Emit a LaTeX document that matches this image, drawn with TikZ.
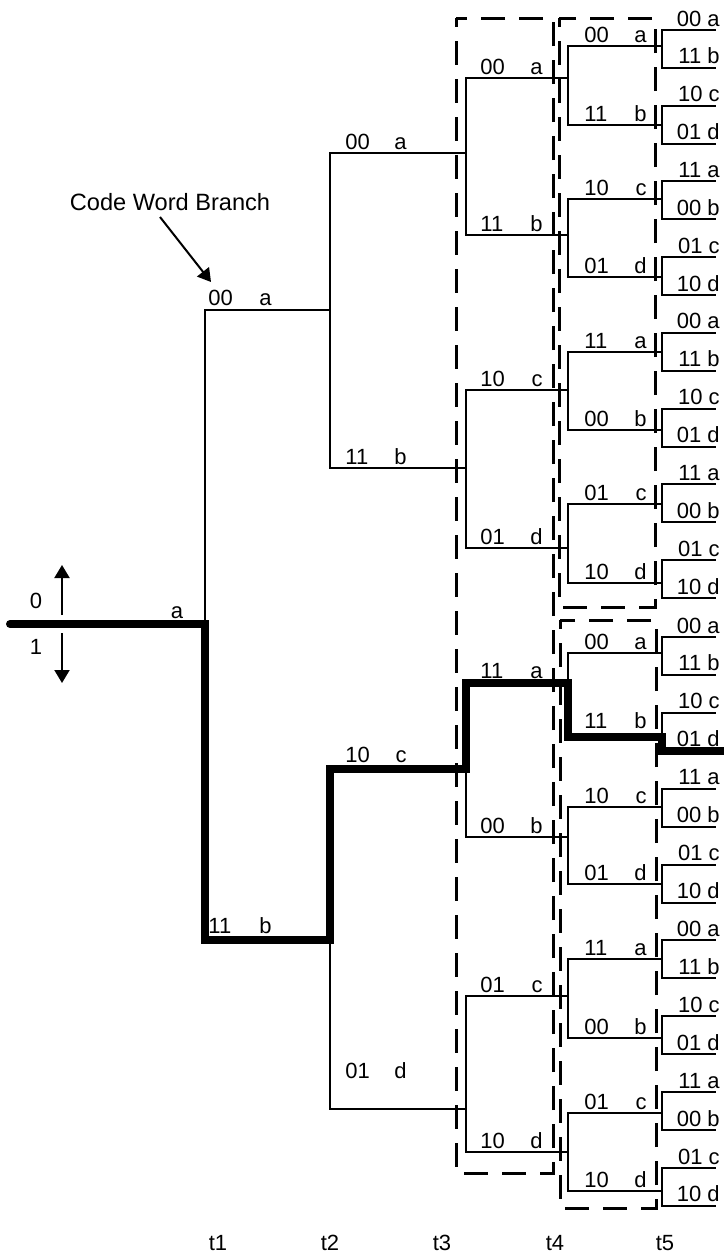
\documentclass[tikz,border=0pt]{standalone}
\usepackage{fontspec}
\setmainfont{Liberation Sans}
\usetikzlibrary{arrows.meta}

\begin{document}
\begin{tikzpicture}[
  x=0.5pt,y=-0.5pt,
  line join=miter,
  >={Triangle[length=6.5pt,width=7.5pt]},
  branch/.style={line width=1pt,line cap=rect},
  survivor/.style={line width=4pt,line cap=round,line join=miter},
  stagebox/.style={line width=1.5pt,dash pattern=on 12pt off 7pt,dash phase=7.5pt},
  pointer/.style={line width=1pt,->},
  code/.style={font=\fontsize{11}{13}\selectfont,inner sep=0pt},
  callout/.style={font=\fontsize{11.8}{14}\selectfont,inner sep=0pt}
]
\useasboundingbox (0,0) rectangle (723,1253);

% Fork points, one column per time step (pixel units, y downwards).
\coordinate (R) at (10,624);
\coordinate (I0) at (205,310);
\coordinate (I1) at (205,940);
\foreach \n/\y in {0/153,1/468,2/769,3/1109}
  \coordinate (J\n) at (330,\y);
\foreach \n/\y in {0/78,1/235,2/390,3/548,4/683,5/837,6/996,7/1152}
  \coordinate (K\n) at (466,\y);
\foreach \n/\y in {0/46,1/125,2/199,3/277,4/352,5/430,6/504,7/583,
                   8/653,9/737,10/807,11/884,12/959,13/1038,14/1113,15/1191}
  \coordinate (M\n) at (568,\y);
\foreach \n in {0,...,15} {
  \pgfmathtruncatemacro\m{\n+16}
  \coordinate (L\n) at (662,{30+37.87*\n});
  \coordinate (L\m) at (662,{637+37.93*\n});
}
\coordinate (rim) at (715,0);
\coordinate (edge) at (730,0);

% Stage boxes
\draw[stagebox] (456,18) rectangle (553,1173);
\draw[stagebox] (559,18) rectangle (655,607);
\draw[stagebox] (560,620) rectangle (656,1208);

% Tree: every fork is one bracket, the parent branch meets it from the left
\draw[branch] (I0 -| J0) -- (I0) -- (I1) -- (I1 -| J0);
\foreach \a/\b in {0/1,2/3}
  \draw[branch] (J\a -| K0) -- (J\a) -- (J\b) -- (J\b -| K0);
\foreach \a/\b in {0/1,2/3,4/5,6/7}
  \draw[branch] (K\a -| M0) -- (K\a) -- (K\b) -- (K\b -| M0);
\foreach \a [evaluate=\a as \b using int(\a+1)] in {0,2,...,14}
  \draw[branch] (M\a -| L0) -- (M\a) -- (M\b) -- (M\b -| L0);
\foreach \a [evaluate=\a as \b using int(\a+1)] in {0,2,...,30}
  \draw[branch] (L\a -| rim) -- (L\a) -- (L\b) -- (L\b -| rim);

% Decoded path
\draw[survivor] (R) -- (R -| I0) -- (I1) -- (I1 -| J0) -- (J2) -- (J2 -| K0)
  -- (K4) -- (K4 -| M0) -- (M9) -- (M9 -| L0) -- (L19) -- (L19 -| edge);

% Branch labels: code word at the left end, state at the right end
\foreach \n/\cw/\st/\r in {0/00/a/5,1/11/b/7} {
  \node[code,anchor=base west] (ic\n) at ([shift={(3,-\r)}]I\n) {\cw};
  \node[code,anchor=base east] (is\n) at ([shift={(-58,-\r)}]I\n -| J0) {\st};
}
\foreach \n/\cw/\st/\r in {0/00/a/4,1/11/b/4,2/10/c/7,3/01/d/31} {
  \node[code,anchor=base west] (jc\n) at ([shift={(15,-\r)}]J\n) {\cw};
  \node[code,anchor=base east] (js\n) at ([shift={(-59,-\r)}]J\n -| K0) {\st};
}
\foreach \n/\cw/\st/\r in {0/00/a/4,1/11/b/4,2/10/c/4,3/01/d/4,
                           4/11/a/5,5/00/b/4,6/01/c/4,7/10/d/4} {
  \node[code,anchor=base west] (kc\n) at ([shift={(14,-\r)}]K\n) {\cw};
  \node[code,anchor=base east] (ks\n) at ([shift={(-25,-\r)}]K\n -| M0) {\st};
}
\foreach \o in {0,8}
  \foreach \i/\cw/\st in {0/00/a,1/11/b,2/10/c,3/01/d,4/11/a,5/00/b,6/01/c,7/10/d} {
    \pgfmathtruncatemacro\n{\o+\i}
    \pgfmathsetmacro\r{ifthenelse(\n==9,9,4)}
    \node[code,anchor=base west] (mc\n) at ([shift={(16,-\r)}]M\n) {\cw};
    \node[code,anchor=base east] (ms\n) at ([shift={(-15,-\r)}]M\n -| L0) {\st};
  }
\foreach \o in {0,8,16,24}
  \foreach \i/\cw/\st in {0/00/a,1/11/b,2/10/c,3/01/d,4/11/a,5/00/b,6/01/c,7/10/d} {
    \pgfmathtruncatemacro\n{\o+\i}
    \node[code,anchor=base east] (lf\n) at ([shift={(5,-4)}]L\n -| rim) {\cw\ \st};
  }

% Start state and input bit directions
\node[code,anchor=base] (ra) at ([shift={(-28,-6)}]R -| I0) {a};
\coordinate (bit) at (62,624);
\draw[pointer] ([yshift=4.5pt]bit) -- ++(0,-50);
\draw[pointer] ([yshift=-4.5pt]bit) -- ++(0,50);
\node[code] (zero) at ([shift={(-26,-23)}]bit) {0};
\node[code] (one) at ([shift={(-26,23)}]bit) {1};

% Call-out
\node[callout] (cwb) at (170,202) {Code Word Branch};
\coordinate (cwtip) at (211,282);
\draw[pointer] ([shift={(-10,15)}]cwb.center) -- (cwtip);

% Time axis
\foreach \k/\x in {1/218,2/330,3/442,4/555,5/665}
  \node[code] (t\k) at (\x,1243) {t\k};
\end{tikzpicture}
\end{document}
